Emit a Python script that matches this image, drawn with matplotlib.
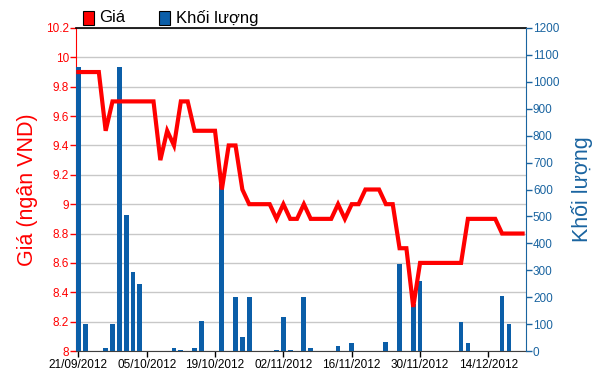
import matplotlib
matplotlib.use("Agg")
import matplotlib.pyplot as plt
from matplotlib.patches import Rectangle
from matplotlib.ticker import FuncFormatter, MultipleLocator

plt.rcParams['font.family'] = ['Liberation Sans', 'DejaVu Sans']

# trading-day index positions of the labelled dates
tick_idx = [0, 10, 20, 30, 40, 50, 60]
tick_labels = ['21/09/2012', '05/10/2012', '19/10/2012', '02/11/2012',
               '16/11/2012', '30/11/2012', '14/12/2012']

price = [9.9, 9.9, 9.9, 9.9, 9.5, 9.7, 9.7, 9.7, 9.7, 9.7,
         9.7, 9.7, 9.3, 9.5, 9.4, 9.7, 9.7, 9.5, 9.5, 9.5,
         9.5, 9.1, 9.4, 9.4, 9.1, 9.0, 9.0, 9.0, 9.0, 8.9,
         9.0, 8.9, 8.9, 9.0, 8.9, 8.9, 8.9, 8.9, 9.0, 8.9,
         9.0, 9.0, 9.1, 9.1, 9.1, 9.0, 9.0, 8.7, 8.7, 8.3,
         8.6, 8.6, 8.6, 8.6, 8.6, 8.6, 8.6, 8.9, 8.9, 8.9,
         8.9, 8.9, 8.8, 8.8, 8.8, 8.8]

volume = [1055, 100, 0, 0, 10, 100, 1055, 505, 292, 249,
          0, 0, 0, 0, 10, 5, 0, 10, 110, 0,
          0, 620, 0, 202, 53, 202, 0, 0, 0, 5,
          125, 5, 0, 202, 10, 0, 0, 0, 20, 0,
          30, 0, 0, 0, 0, 32, 0, 322, 0, 175,
          260, 0, 0, 0, 0, 0, 107, 29, 0, 0,
          0, 0, 206, 100, 0, 0]

RED = '#ff0000'
BLUE = '#0b5ea8'
AXBLUE = '#1a64a0'

x = list(range(len(price)))

fig = plt.figure(figsize=(6.0, 3.77), dpi=100)
ax = fig.add_axes([76/600, 1-351/377, (526-76)/600, (351-28)/377])

# price axis (left) with grid
ax.set_ylim(8, 10.2)
ax.set_xlim(-0.34, 65.5)
ax.yaxis.set_major_locator(MultipleLocator(0.2))
ax.yaxis.set_major_formatter(FuncFormatter(lambda v, p: f"{round(v, 1):g}"))
ax.grid(axis='y', color='#c8c8c8', linewidth=1.0)
ax.set_axisbelow(True)
ax.set_xticks(tick_idx)
ax.set_xticklabels(tick_labels)
ax.tick_params(axis='y', colors=RED, labelcolor=RED, length=4, width=1,
               labelsize=8.5, pad=1)
ax.tick_params(axis='x', colors='black', length=4, width=1, labelsize=8.5, pad=2)
ax.spines['left'].set_color(RED)
ax.spines['top'].set_color('black')
ax.spines['top'].set_linewidth(1.2)
ax.spines['bottom'].set_color('#404040')
ax.spines['right'].set_visible(False)
ax.set_ylabel('Giá (ngân VND)', color=RED, fontsize=15.5, labelpad=6)

# volume axis (right)
ax2 = ax.twinx()
ax2.bar(x, volume, width=0.7, color=BLUE, edgecolor='none', zorder=2)
ax2.set_ylim(0, 1200)
ax2.yaxis.set_major_locator(MultipleLocator(100))
ax2.tick_params(axis='y', colors=AXBLUE, labelcolor=AXBLUE, length=4, width=1,
                labelsize=8.5, pad=1)
for s in ['left', 'top', 'bottom']:
    ax2.spines[s].set_visible(False)
ax2.spines['right'].set_color(AXBLUE)
ax2.set_ylabel('Khối lượng', color=AXBLUE, fontsize=15.5, labelpad=8)

# price line on top
ax3 = ax.twinx()
ax3.set_ylim(ax.get_ylim())
ax3.set_xlim(ax.get_xlim())
ax3.plot(x, price, color=RED, linewidth=3, solid_joinstyle='miter')
ax3.axis('off')

# legend (manual)
fig.patches.append(Rectangle((83/600, 1-25/377), 11/600, 14/377, transform=fig.transFigure,
                             facecolor=RED, edgecolor='black', linewidth=0.8))
fig.text(99/600, 1-18/377, 'Giá', fontsize=12, va='center', ha='left')
fig.patches.append(Rectangle((159/600, 1-25/377), 11/600, 14/377, transform=fig.transFigure,
                             facecolor=BLUE, edgecolor='black', linewidth=0.8))
fig.text(176/600, 1-18/377, 'Khối lượng', fontsize=12, va='center', ha='left')

fig.savefig('out.png', dpi=100)
